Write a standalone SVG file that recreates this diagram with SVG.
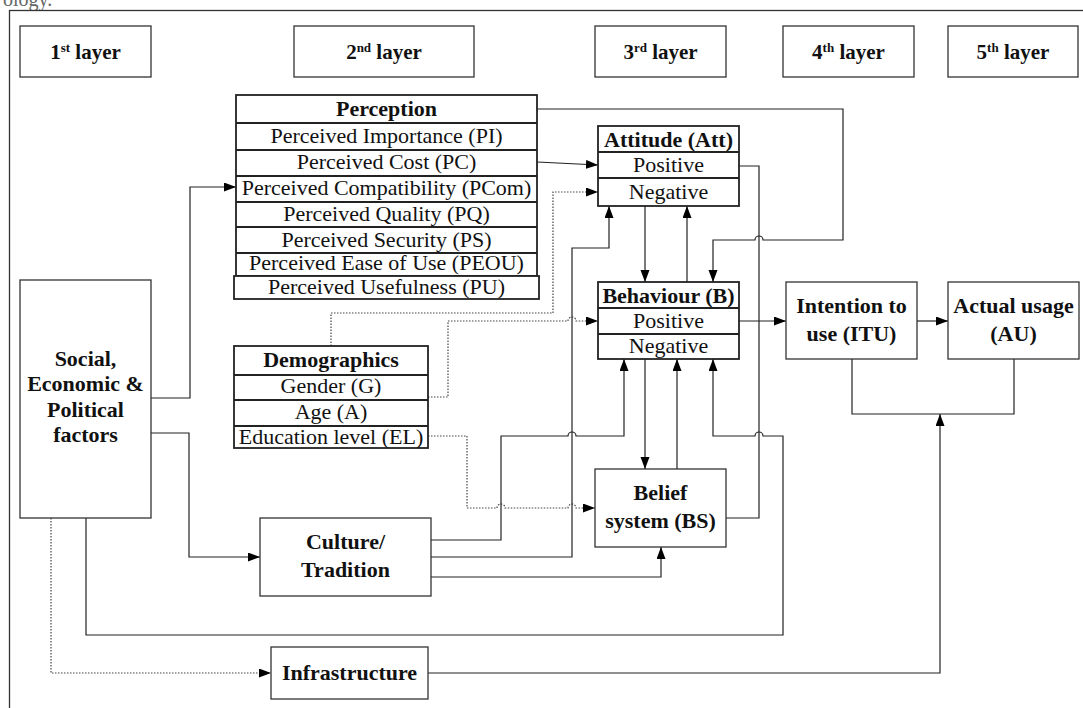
<svg xmlns="http://www.w3.org/2000/svg" width="1083" height="708" viewBox="0 0 1083 708">
<style>
.bg{fill:#fff}
.box{fill:#fff;stroke:#333;stroke-width:1.3}
.tbl{fill:#fff;stroke:#222;stroke-width:1.8}
.t{font-family:"Liberation Serif","Times New Roman",serif;font-size:22px;fill:#111;text-anchor:middle}
.b{font-weight:bold}
.lay{font-family:"Liberation Serif","Times New Roman",serif;font-size:21px;font-weight:bold;fill:#111;text-anchor:middle}
.sup{font-size:13px}
.c{fill:none;stroke:#222;stroke-width:1.2}
.d{fill:none;stroke:#444;stroke-width:1.2;stroke-dasharray:1.5 1.5}
</style>
<defs>
<marker id="ah" markerUnits="userSpaceOnUse" markerWidth="12" markerHeight="10" refX="12" refY="4.5" orient="auto">
<path d="M0,0 L12,4.5 L0,9 z" fill="#000"/>
</marker>
</defs>
<rect class="bg" x="0" y="0" width="1083" height="708"/>
<text x="3" y="6" style="font-family:'Liberation Serif',serif;font-size:20px;fill:#666">ology.</text>
<rect x="9.5" y="10.5" width="1100" height="710" fill="none" stroke="#333" stroke-width="1.3"/>

<g id="layer1"><rect class="box" x="20" y="26" width="131" height="51"/><text class="lay" x="85.5" y="59">1<tspan class="sup" dy="-7">st</tspan><tspan dy="7"> layer</tspan></text></g>
<g id="layer2"><rect class="box" x="294" y="26" width="180" height="51"/><text class="lay" x="384" y="59">2<tspan class="sup" dy="-7">nd</tspan><tspan dy="7"> layer</tspan></text></g>
<g id="layer3"><rect class="box" x="595" y="26" width="131" height="51"/><text class="lay" x="660.5" y="59">3<tspan class="sup" dy="-7">rd</tspan><tspan dy="7"> layer</tspan></text></g>
<g id="layer4"><rect class="box" x="783" y="26" width="131" height="51"/><text class="lay" x="848.5" y="59">4<tspan class="sup" dy="-7">th</tspan><tspan dy="7"> layer</tspan></text></g>
<g id="layer5"><rect class="box" x="948" y="26" width="130" height="51"/><text class="lay" x="1013" y="59">5<tspan class="sup" dy="-7">th</tspan><tspan dy="7"> layer</tspan></text></g>

<g id="connectors">
<path class="c" d="M151,398 H190 V187 H236" marker-end="url(#ah)"/>
<path class="c" d="M151,433 H189 V557 H260" marker-end="url(#ah)"/>
<path class="c" d="M86,518 V635 H783 V436 H763 A4,4 0 0 0 755,436 H713 V359" marker-end="url(#ah)"/>
<path class="d" d="M51,518 V673 H271" marker-end="url(#ah)"/>
<path class="c" d="M537,109 H843 V240 H763 A4,4 0 0 0 755,240 H713 V282" marker-end="url(#ah)"/>
<path class="c" d="M537,162 L598,165" marker-end="url(#ah)"/>
<path class="d" d="M331,346 V313 H553 V192 H598" marker-end="url(#ah)"/>
<path class="d" d="M428,397 H448 V321 H568 A4,4 0 0 1 576,321 H598" marker-end="url(#ah)"/>
<path class="d" d="M428,436 H467 V508 H497 A4,4 0 0 1 505,508 H568 A4,4 0 0 1 576,508 H595" marker-end="url(#ah)"/>
<path class="c" d="M431,540 H501 V436 H568 A4,4 0 0 1 576,436 H624 V359" marker-end="url(#ah)"/>
<path class="c" d="M431,557 H572 V248 H609 V206" marker-end="url(#ah)"/>
<path class="c" d="M431,577 H661 V547" marker-end="url(#ah)"/>
<path class="c" d="M645,206 V282" marker-end="url(#ah)"/>
<path class="c" d="M687,282 V206" marker-end="url(#ah)"/>
<path class="c" d="M645,359 V469" marker-end="url(#ah)"/>
<path class="c" d="M677,469 V359" marker-end="url(#ah)"/>
<path class="c" d="M726,518 H759 V166 H739"/>
<path class="c" d="M739,321 H786" marker-end="url(#ah)"/>
<path class="c" d="M917,321 H948" marker-end="url(#ah)"/>
<path class="c" d="M852,359 V414 H1014 V359"/>
<path class="c" d="M428,673 H940 V414" marker-end="url(#ah)"/>
</g>

<g id="perception">
<rect class="tbl" x="236" y="95" width="301" height="181"/>
<rect class="tbl" x="234" y="276" width="305" height="23"/>
<path d="M236,123 H537 M236,150 H537 M236,176 H537 M236,202 H537 M236,227 H537 M236,253 H537" stroke="#222" stroke-width="1.8"/>
<text class="t b" x="386.5" y="116">Perception</text>
<text class="t" x="386.5" y="143">Perceived Importance (PI)</text>
<text class="t" x="386.5" y="169">Perceived Cost (PC)</text>
<text class="t" x="386.5" y="195">Perceived Compatibility (PCom)</text>
<text class="t" x="386.5" y="221">Perceived Quality (PQ)</text>
<text class="t" x="386.5" y="247">Perceived Security (PS)</text>
<text class="t" x="386.5" y="270">Perceived Ease of Use (PEOU)</text>
<text class="t" x="386.5" y="294">Perceived Usefulness (PU)</text>
</g>

<g id="attitude">
<rect class="tbl" x="598" y="126" width="141" height="80"/>
<path d="M598,152 H739 M598,178 H739" stroke="#222" stroke-width="1.8"/>
<text class="t b" x="668.5" y="147">Attitude (Att)</text>
<text class="t" x="668.5" y="172">Positive</text>
<text class="t" x="668.5" y="199">Negative</text>
</g>

<g id="behaviour">
<rect class="tbl" x="598" y="282" width="141" height="77"/>
<path d="M598,308 H739 M598,334 H739" stroke="#222" stroke-width="1.8"/>
<text class="t b" x="668.5" y="303">Behaviour (B)</text>
<text class="t" x="668.5" y="328">Positive</text>
<text class="t" x="668.5" y="353">Negative</text>
</g>

<g id="demographics">
<rect class="tbl" x="234" y="346" width="194" height="102"/>
<path d="M234,375 H428 M234,400 H428 M234,426 H428" stroke="#222" stroke-width="1.8"/>
<text class="t b" x="331" y="367">Demographics</text>
<text class="t" x="331" y="393">Gender (G)</text>
<text class="t" x="331" y="419">Age (A)</text>
<text class="t" x="331" y="444">Education level (EL)</text>
</g>

<g id="social">
<rect class="box" x="20" y="280" width="131" height="238"/>
<text class="t b" x="85.5" y="366">Social,</text>
<text class="t b" x="85.5" y="391">Economic &amp;</text>
<text class="t b" x="85.5" y="417">Political</text>
<text class="t b" x="85.5" y="442">factors</text>
</g>

<g id="culture">
<rect class="box" x="260" y="518" width="171" height="78"/>
<text class="t b" x="345.5" y="549">Culture/</text>
<text class="t b" x="345.5" y="577">Tradition</text>
</g>

<g id="belief">
<rect class="box" x="595" y="469" width="131" height="78"/>
<text class="t b" x="660.5" y="500">Belief</text>
<text class="t b" x="660.5" y="528">system (BS)</text>
</g>

<g id="itu">
<rect class="box" x="786" y="282" width="131" height="77"/>
<text class="t b" x="851.5" y="313">Intention to</text>
<text class="t b" x="851.5" y="341">use (ITU)</text>
</g>

<g id="au">
<rect class="box" x="948" y="282" width="131" height="77"/>
<text class="t b" x="1013.5" y="313">Actual usage</text>
<text class="t b" x="1013.5" y="341">(AU)</text>
</g>

<g id="infrastructure">
<rect class="box" x="271" y="647" width="157" height="52"/>
<text class="t b" x="349.5" y="680">Infrastructure</text>
</g>
</svg>
